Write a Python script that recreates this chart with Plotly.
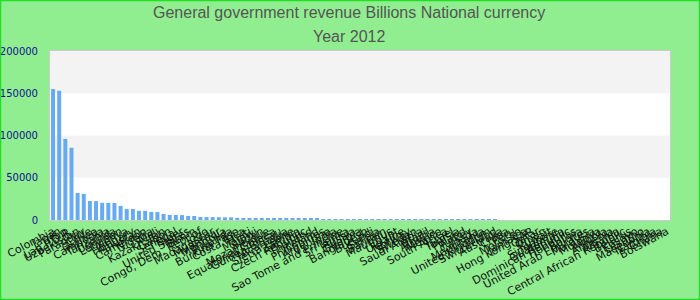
import plotly.graph_objects as go

countries = [
    "Colombia", "Japan", "Iraq", "Lao P.D.R.", "Uzbekistan", "Paraguay", "Chile", "Guinea",
    "Cambodia", "Tanzania", "Uganda", "Lebanon", "Kenya", "Hungary", "Pakistan", "Cameroon",
    "Nigeria", "Mali", "Kazakhstan", "Gabon", "Senegal", "Niger", "United States", "Benin",
    "Congo, Dem. Rep. of", "Togo", "Madagascar", "Myanmar", "Mongolia", "Rwanda",
    "Burkina Faso", "Costa Rica", "Haiti", "Malawi", "Sudan", "Mozambique", "Equatorial Guinea",
    "Guinea-Bissau", "Nicaragua", "Sierra Leone", "Zambia", "Czech Republic", "Thailand",
    "Iceland", "Philippines", "Argentina", "India", "Sao Tome and Principe", "Sri Lanka",
    "Russia", "Georgia", "Bangladesh", "Burundi", "Serbia", "Bahrain", "Mauritius", "Egypt",
    "Ukraine", "Norway", "Sweden", "Saudi Arabia", "Brazil", "Algeria", "Mexico",
    "South Africa", "Israel", "Tunisia", "Poland", "Turkey", "Canada", "Mauritania",
    "United Kingdom", "Switzerland", "Australia", "China", "Peru", "Morocco", "Jamaica",
    "Hong Kong SAR", "Qatar", "Oman", "Kuwait", "Singapore", "Guatemala", "Dominican Republic",
    "Honduras", "Bolivia", "United Arab Emirates", "Malaysia", "Moldova", "Angola", "Armenia",
    "Albania", "Central African Republic", "Belarus", "Kosovo", "Lesotho", "Macedonia",
    "Namibia", "Ghana", "Botswana",
]

# None = no data reported for that country
revenue = [
    155000, 153000, 96000, 85500, 32000, 31000, 22500, 22400, 20300, 20200,
    20100, 16700, 13100, 13000, 10900, 10800, 9600, 9400, 7100, 6000,
    5900, 5800, 4800, 4700, 3700, 3500, 3400, 3300, 3200, 3100,
    2500, 2400, 2400, 2300, 2300, 2200, 2200, 2100, 2100, 2000,
    1300, 1280, 1250, 1200, 1180, 1150, 1120, 1100, 1080, 1050,
    1020, 1000, 980, 950, 920, 900, 880, 860, 840, 820,
    800, 780, 760, 740, 720, 700, 680, 660, 640, 620,
    600, 590, 580, None, None, None, None, None, None, None,
    None, None, None, None, None, None, None, None, None, None,
    None, None, None, None, None, None, None, None, None, None, None,
]

y_ticks = [0, 50000, 100000, 150000, 200000]
y_tick_text = ["0", "50000", "100000", "150000", "200000"]
title_line1 = "General government revenue Billions National currency"
title_line2 = "Year 2012"

W, H = 700, 300
ML, MR, MT, MB = 50, 30, 51, 80
PW, PH = W - ML - MR, H - MT - MB

fig = go.Figure()
fig.add_trace(go.Bar(
    x=countries, y=revenue,
    marker=dict(color="#66aaf2", line=dict(width=0)),
    hoverinfo="x+y",
))

shapes = []
for lo, hi in [(50000, 100000), (150000, 200000)]:
    shapes.append(dict(type="rect", xref="paper", yref="y", x0=0, x1=1, y0=lo, y1=hi,
                       fillcolor="#f3f3f3", line=dict(width=0), layer="below"))
shapes.append(dict(type="rect", xref="paper", yref="paper",
                   x0=(0.5 - ML) / PW, x1=(W - 0.5 - ML) / PW,
                   y0=(MT + PH - (H - 0.5)) / PH, y1=(MT + PH - 0.5) / PH,
                   line=dict(color="#22e022", width=1.5), fillcolor="rgba(0,0,0,0)"))

def ypix(py):
    return (MT + PH - py) / PH

annotations = [
    dict(text=title_line1, xref="paper", yref="paper", x=(349 - ML) / PW, y=ypix(13),
         showarrow=False, xanchor="center", yanchor="middle",
         font=dict(family="Liberation Sans", size=16, color="#555555")),
    dict(text=title_line2, xref="paper", yref="paper", x=(349 - ML) / PW, y=ypix(36),
         showarrow=False, xanchor="center", yanchor="middle",
         font=dict(family="Liberation Sans", size=16, color="#555555")),
]

fig.update_layout(
    width=W, height=H, autosize=False,
    margin=dict(l=ML, r=MR, t=MT, b=MB, pad=0),
    paper_bgcolor="#90ee90", plot_bgcolor="white",
    showlegend=False, bargap=0.35,
    shapes=shapes, annotations=annotations,
    font=dict(family="DejaVu Sans"),
)
fig.update_xaxes(
    type="category", tickmode="array", tickvals=countries, ticktext=countries,
    tickangle=-28, tickfont=dict(family="DejaVu Sans", size=11, color="#111111"),
    showgrid=False, ticks="", showline=True, mirror=True, linecolor="#cccccc", linewidth=1,
    automargin=False, range=[-0.5, len(countries) - 0.5],
)
fig.update_yaxes(
    range=[0, 200000], tickmode="array", tickvals=y_ticks, ticktext=y_tick_text,
    tickfont=dict(family="DejaVu Sans", size=10, color="#101090"),
    showgrid=False, zeroline=False, ticks="", ticklabelstandoff=9,
    showline=True, mirror=True, linecolor="#cccccc", linewidth=1,
    automargin=False,
)

fig.write_html("out.html")
